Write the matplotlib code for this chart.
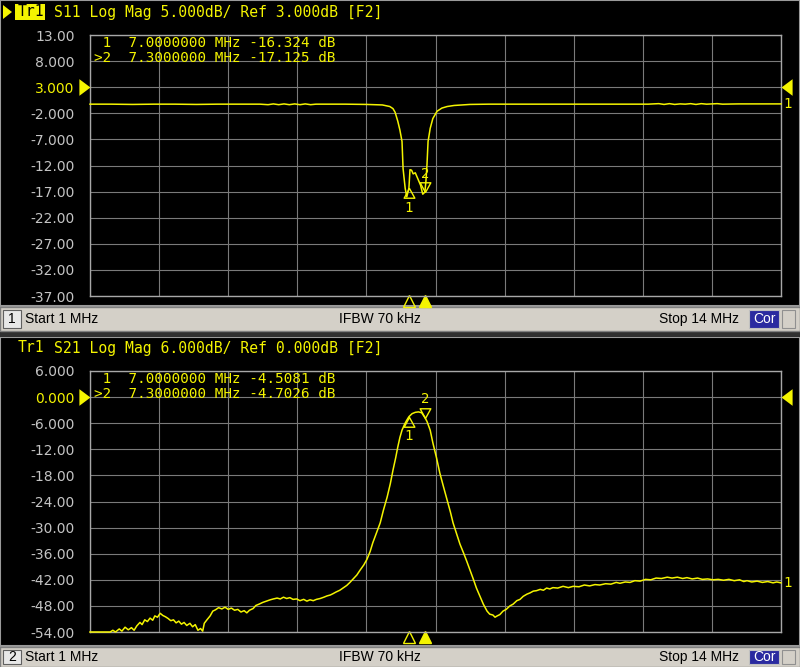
import matplotlib
matplotlib.use("Agg")
import matplotlib.pyplot as plt
from matplotlib.path import Path
from matplotlib.patches import Rectangle, Polygon

# ---------------- data ----------------
f_start, f_stop = 1.0, 14.0

s11_freq = [1.00, 1.40, 1.80, 2.20, 2.60, 3.00, 3.40, 3.80, 4.20, 4.35, 4.45, 4.55, 4.65,
            4.75, 4.85, 4.95, 5.05, 5.15, 5.25, 5.40, 5.80, 6.20, 6.50, 6.64, 6.70, 6.74,
            6.79, 6.83, 6.87, 6.89, 6.93, 6.96, 7.00, 7.02, 7.05, 7.08, 7.12, 7.17, 7.22,
            7.26, 7.30, 7.32, 7.34, 7.36, 7.40, 7.45, 7.53, 7.62, 7.72, 7.85, 8.00, 8.15,
            8.50, 9.00, 9.50, 10.0, 10.5, 11.0, 11.5, 11.7, 11.8, 11.9, 12.0, 12.1, 12.2,
            12.3, 12.4, 12.5, 12.6, 12.7, 12.8, 12.9, 13.2, 13.6, 14.0]
s11_db = [-0.25, -0.25, -0.30, -0.25, -0.25, -0.30, -0.25, -0.25, -0.25, -0.35, -0.20, -0.35, -0.20,
          -0.35, -0.20, -0.35, -0.20, -0.35, -0.25, -0.25, -0.25, -0.30, -0.40, -0.70, -1.10, -1.80,
          -3.50, -5.20, -7.40, -12.6, -16.4, -18.0, -16.3, -12.8, -12.9, -13.6, -13.4, -14.6, -15.8,
          -17.5, -17.1, -15.0, -11.8, -7.40, -4.90, -3.00, -1.60, -1.00, -0.70, -0.50, -0.40, -0.30,
          -0.25, -0.25, -0.25, -0.25, -0.25, -0.25, -0.25, -0.15, -0.30, -0.15, -0.30, -0.20, -0.25,
          -0.15, -0.30, -0.15, -0.25, -0.20, -0.15, -0.25, -0.20, -0.20, -0.20]

s21_freq = [1.00, 1.20, 1.38, 1.43, 1.48, 1.55, 1.60, 1.66, 1.72, 1.78, 1.83, 1.88, 1.94, 1.98,
            2.03, 2.08, 2.13, 2.18, 2.22, 2.27, 2.32, 2.37, 2.42, 2.47, 2.52, 2.57, 2.62, 2.67,
            2.72, 2.77, 2.82, 2.88, 2.93, 2.98, 3.03, 3.08, 3.12, 3.15, 3.20, 3.26, 3.31, 3.36,
            3.42, 3.48, 3.54, 3.60, 3.66, 3.72, 3.78, 3.84, 3.90, 3.95, 4.00, 4.07, 4.12, 4.18,
            4.25, 4.32, 4.39, 4.45, 4.52, 4.58, 4.64, 4.70, 4.76, 4.82, 4.89, 4.95, 5.02, 5.08,
            5.14, 5.20, 5.26, 5.33, 5.40, 5.46, 5.52, 5.57, 5.63, 5.70, 5.76, 5.83, 5.89, 5.95,
            6.02, 6.08, 6.15, 6.21, 6.27, 6.32, 6.39, 6.46, 6.52, 6.59, 6.65, 6.70, 6.75, 6.79,
            6.83, 6.87, 6.92, 6.96, 7.00, 7.06, 7.12, 7.18, 7.24, 7.30, 7.34, 7.40, 7.45, 7.52,
            7.58, 7.65, 7.72, 7.78, 7.83, 7.90, 7.96, 8.03, 8.09, 8.15, 8.21, 8.27, 8.34, 8.40,
            8.47, 8.52, 8.58, 8.62, 8.66, 8.71, 8.77, 8.83, 8.90, 8.96, 9.03, 9.09, 9.15, 9.22,
            9.28, 9.34, 9.40, 9.47, 9.53, 9.59, 9.65, 9.71, 9.80, 9.90, 10.00, 10.09, 10.20,
            10.30, 10.40, 10.50, 10.59, 10.70, 10.80, 10.90, 10.97, 11.07, 11.16, 11.25, 11.35,
            11.45, 11.55, 11.65, 11.75, 11.86, 11.95, 12.05, 12.15, 12.23, 12.33, 12.43, 12.52,
            12.62, 12.72, 12.82, 12.92, 13.02, 13.12, 13.22, 13.30, 13.36, 13.45, 13.55, 13.65,
            13.75, 13.85, 13.92, 14.00]
s21_db = [-54.0, -54.0, -54.0, -53.6, -54.0, -53.3, -53.8, -52.9, -53.5, -53.0, -53.6, -52.6, -51.8, -52.3,
          -51.2, -51.6, -50.8, -51.3, -50.3, -50.6, -49.7, -50.2, -50.5, -50.9, -51.4, -51.2, -51.9, -51.5,
          -52.2, -51.8, -52.5, -52.0, -52.8, -52.3, -53.6, -53.2, -53.8, -52.0, -51.2, -50.3, -49.2, -48.9,
          -48.4, -48.7, -48.3, -48.8, -48.5, -49.0, -48.8, -49.4, -49.1, -49.6, -49.0, -48.6, -47.9, -47.6,
          -47.2, -46.9, -46.6, -46.4, -46.2, -46.4, -46.0, -46.3, -46.1, -46.5, -46.4, -46.8, -46.5, -46.9,
          -46.6, -46.8, -46.5, -46.3, -46.0, -45.7, -45.5, -45.2, -44.8, -44.4, -43.9, -43.3, -42.6, -41.8,
          -40.9, -39.8, -38.6, -37.3, -35.5, -33.5, -31.2, -28.9, -26.0, -23.0, -19.9, -16.8, -14.0, -11.5,
          -9.3, -7.6, -6.2, -5.3, -4.5, -3.8, -3.5, -3.4, -3.6, -4.7, -5.6, -7.6, -10.5, -14.0,
          -17.4, -20.6, -23.7, -26.4, -28.9, -31.5, -33.8, -35.9, -37.8, -39.8, -41.8, -43.9, -45.9, -47.6,
          -49.2, -49.9, -50.1, -50.6, -50.3, -50.0, -49.2, -48.8, -48.0, -47.6, -46.8, -46.5, -45.8, -45.3,
          -45.0, -44.6, -44.5, -44.2, -44.4, -43.9, -44.1, -43.8, -43.9, -43.5, -43.8, -43.5, -43.6,
          -43.2, -43.4, -43.1, -43.2, -42.9, -43.0, -42.6, -42.8, -42.5, -42.6, -42.2, -42.3,
          -41.9, -42.0, -41.6, -41.7, -41.4, -41.6, -41.4, -41.7, -41.5, -41.8, -41.6, -41.9,
          -41.8, -42.0, -41.9, -42.1, -41.9, -42.2, -42.0, -42.4, -42.2, -42.5, -42.3, -42.6,
          -42.4, -42.7, -42.5, -42.7]

s11_ticks = ["13.00", "8.000", "3.000", "-2.000", "-7.000", "-12.00", "-17.00",
             "-22.00", "-27.00", "-32.00", "-37.00"]
s21_ticks = ["6.000", "0.000", "-6.000", "-12.00", "-18.00", "-24.00", "-30.00",
             "-36.00", "-42.00", "-48.00", "-54.00"]

s11_markers = [(7.0, -16.324), (7.3, -17.125)]
s21_markers = [(7.0, -4.5081), (7.3, -4.7026)]

# ---------------- styling ----------------
W, H = 800, 667
YEL = "#f4f400"
GRID = "#7a7a7a"
BORDER = "#a8a8a8"
LBL = "#c4c4c4"
BAR = "#d4d0c8"
MONO = "DejaVu Sans Mono"

fig = plt.figure(figsize=(W / 100, H / 100), dpi=100, facecolor="black")


def fx(x):
    return x / W


def fy(y):
    return 1 - y / H


def frect(x0, y0, x1, y1, z=1, **kw):
    fig.patches.append(Rectangle((fx(x0), fy(y1)), fx(x1) - fx(x0), fy(y0) - fy(y1),
                                 transform=fig.transFigure, zorder=z, **kw))


# panel frames (behind axes)
frect(0, 0, 800, 306, z=-5, facecolor="black", edgecolor="#9a9a9a", lw=1.5)
frect(0, 337, 800, 646, z=-5, facecolor="black", edgecolor="#9a9a9a", lw=1.5)
frect(0, 331, 800, 337, z=-5, facecolor="#303030", edgecolor="none")


def status_bar(y0, y1, num):
    frect(0, y0, 800, y1, facecolor=BAR, edgecolor="#808080", lw=1)
    frect(3, y0 + 3, 21, y1 - 3, facecolor="#e8e8e8", edgecolor="#606060", lw=0.8)
    yc = (y0 + y1) / 2
    fig.text(fx(12), fy(yc), num, color="black", fontsize=10, family="Liberation Sans",
             ha="center", va="center")
    fig.text(fx(25), fy(yc), "Start 1 MHz", color="black", fontsize=10, family="Liberation Sans",
             ha="left", va="center")
    fig.text(fx(380), fy(yc), "IFBW 70 kHz", color="black", fontsize=10, family="Liberation Sans",
             ha="center", va="center")
    fig.text(fx(739), fy(yc), "Stop 14 MHz", color="black", fontsize=10, family="Liberation Sans",
             ha="right", va="center")
    frect(749, y0 + 3, 779, y1 - 3, facecolor="#2a2aa0", edgecolor="#c0c0c0", lw=0.8)
    fig.text(fx(764), fy(yc), "Cor", color="white", fontsize=10, family="Liberation Sans",
             ha="center", va="center")
    frect(782, y0 + 3, 795, y1 - 3, facecolor=BAR, edgecolor="#909090", lw=0.8)


status_bar(307, 331, "1")
status_bar(647, 667, "2")

tri_up = Path([(0, 0), (-0.55, -1), (0.55, -1), (0, 0)])
tri_dn = Path([(0, 0), (-0.55, 1), (0.55, 1), (0, 0)])
arrow_r = Path([(0, 0), (-1, 0.75), (-1, -0.75), (0, 0)])
arrow_l = Path([(0, 0), (1, 0.75), (1, -0.75), (0, 0)])


def make_panel(top_px, freq, db, ticks, ref_idx, markers, title, readout, active_title):
    ax = fig.add_axes([fx(90), fy(top_px + 261), fx(691), 261 / H])
    ax.set_zorder(2)
    ax.set_facecolor("black")
    vals = [float(t) for t in ticks]
    ax.set_ylim(vals[-1], vals[0])
    ax.set_xlim(f_start, f_stop)
    ax.set_yticks(vals)
    ax.set_yticklabels(ticks)
    ax.set_xticks([f_start + i * (f_stop - f_start) / 10 for i in range(11)])
    ax.set_xticklabels([])
    ax.tick_params(length=0, pad=11, labelsize=10, labelcolor=LBL)
    for lab in ax.get_yticklabels():
        lab.set_family("DejaVu Sans")
    ax.get_yticklabels()[ref_idx].set_color(YEL)
    ax.grid(True, color=GRID, lw=0.8)
    for s in ax.spines.values():
        s.set_color(BORDER)
        s.set_linewidth(1.0)
    ax.plot(freq, db, color=YEL, lw=1.1, clip_on=False, zorder=3)

    ref = vals[ref_idx]
    # reference arrows
    ax.plot([f_start], [ref], marker=arrow_r, ms=16, color=YEL, mec=YEL, mew=0,
            clip_on=False, zorder=4)
    ax.plot([f_stop], [ref], marker=arrow_l, ms=16, color=YEL, mec=YEL, mew=0,
            clip_on=False, zorder=4)
    # trace number at end
    ax.annotate("1", xy=(f_stop, db[-1]), xytext=(2, 0), textcoords="offset points",
                color=YEL, fontsize=10, family=MONO, va="center", ha="left",
                annotation_clip=False)

    # markers on trace
    (f1, v1), (f2, v2) = markers
    ax.plot([f1], [v1], marker=tri_up, ms=14, mfc="none", mec=YEL, mew=1.0, ls="none",
            clip_on=False, zorder=5)
    ax.annotate("1", xy=(f1, v1), xytext=(0, -9), textcoords="offset points",
                color=YEL, fontsize=10, family=MONO, ha="center", va="top")
    ax.plot([f2], [v2], marker=tri_dn, ms=14, mfc="none", mec=YEL, mew=1.0, ls="none",
            clip_on=False, zorder=5)
    ax.annotate("2", xy=(f2, v2), xytext=(0, 8), textcoords="offset points",
                color=YEL, fontsize=10, family=MONO, ha="center", va="bottom")

    # marker position indicators below graticule
    xt = ax.get_xaxis_transform()
    ax.plot([f1], [-0.018], marker="^", ms=8, mfc="none", mec=YEL, mew=1.0,
            transform=xt, clip_on=False)
    ax.plot([f2], [-0.018], marker="^", ms=8, mfc=YEL, mec=YEL,
            transform=xt, clip_on=False)

    # readout
    fig.text(fx(94), fy(top_px + 8), readout[0], color=YEL, fontsize=10.3, family=MONO,
             ha="left", va="center", zorder=6)
    fig.text(fx(94), fy(top_px + 23), readout[1], color=YEL, fontsize=10.3, family=MONO,
             ha="left", va="center", zorder=6)

    # title
    ty = top_px - 23
    if active_title:
        fig.patches.append(Polygon([(fx(3), fy(ty - 7)), (fx(3), fy(ty + 7)), (fx(12), fy(ty))],
                                   closed=True, transform=fig.transFigure,
                                   facecolor=YEL, edgecolor="none"))
        frect(15, ty - 8, 45, ty + 8, facecolor=YEL, edgecolor="none")
        fig.text(fx(18), fy(ty), "Tr1", color="black", fontsize=10.6, family=MONO,
                 ha="left", va="center")
    else:
        fig.text(fx(18), fy(ty), "Tr1", color=YEL, fontsize=10.6, family=MONO,
                 ha="left", va="center")
    fig.text(fx(54), fy(ty), title, color=YEL, fontsize=10.6, family=MONO,
             ha="left", va="center")
    return ax


make_panel(35, s11_freq, s11_db, s11_ticks, 2, s11_markers,
           "S11 Log Mag 5.000dB/ Ref 3.000dB [F2]",
           [" 1  7.0000000 MHz -16.324 dB", ">2  7.3000000 MHz -17.125 dB"], True)
make_panel(371, s21_freq, s21_db, s21_ticks, 1, s21_markers,
           "S21 Log Mag 6.000dB/ Ref 0.000dB [F2]",
           [" 1  7.0000000 MHz -4.5081 dB", ">2  7.3000000 MHz -4.7026 dB"], False)

fig.savefig("out.png", dpi=100, facecolor="black")
